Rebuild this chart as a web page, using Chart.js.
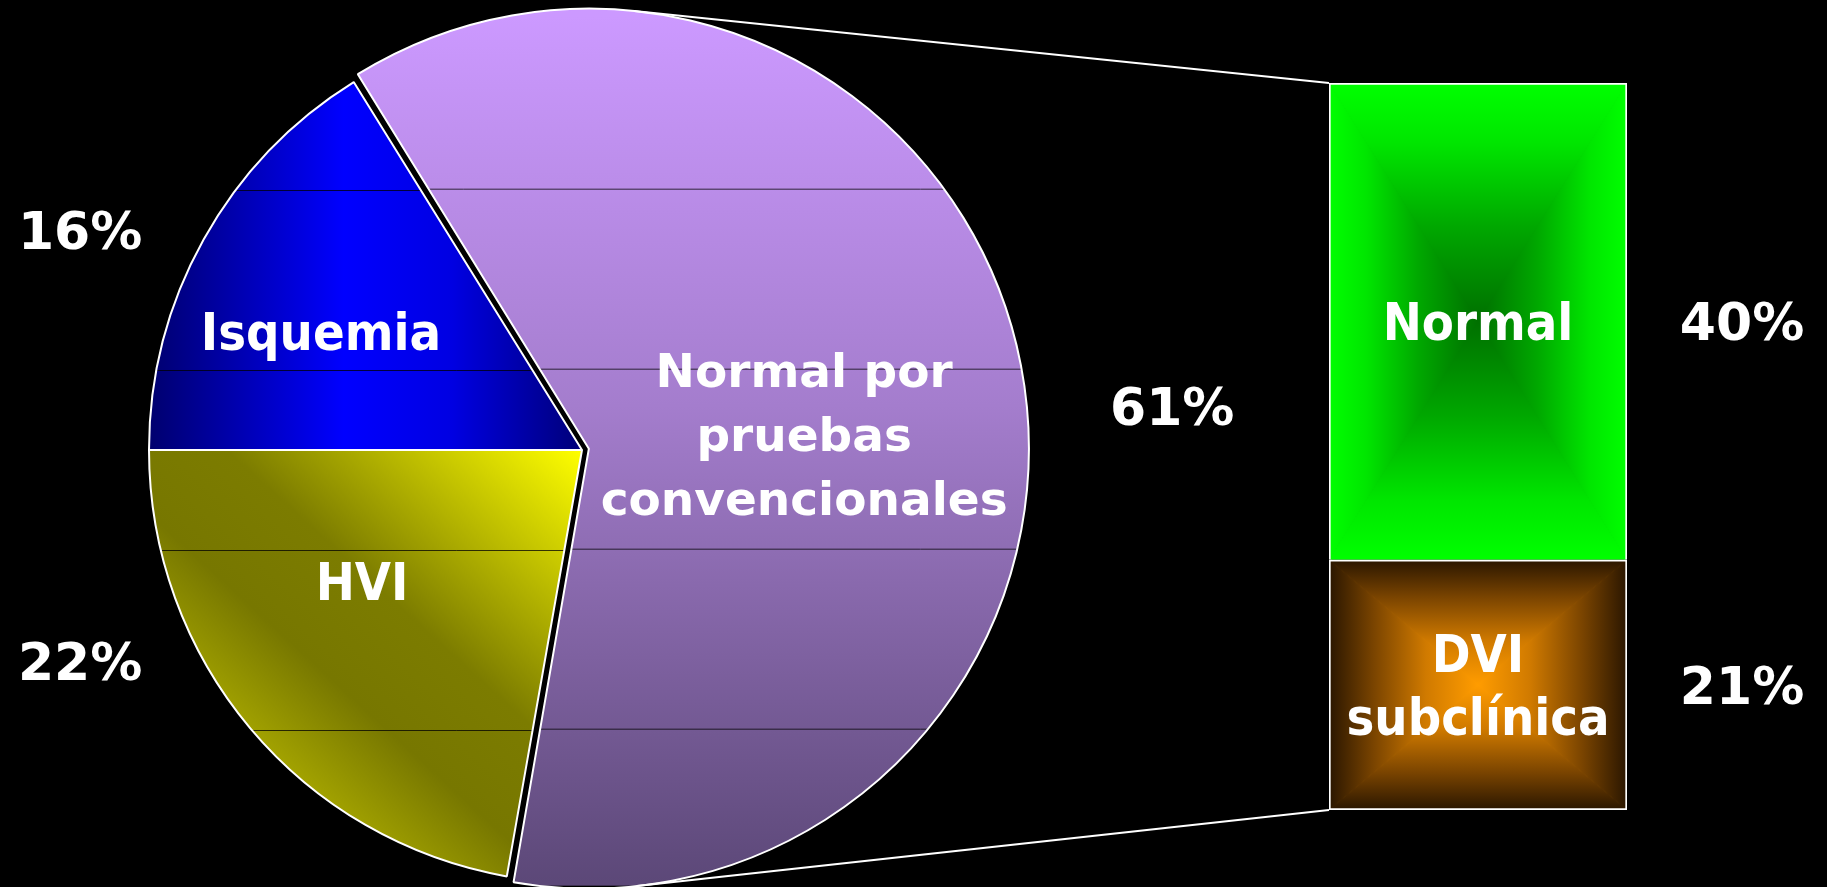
<!DOCTYPE html>
<html>
<head>
<meta charset="utf-8">
<script src="https://cdn.jsdelivr.net/npm/chart.js@4/dist/chart.umd.min.js"></script>
<style>
    html, body { margin: 0; padding: 0; background: #000; overflow: hidden; }
    #wrap { position: relative; width: 1827px; height: 887px; }
    #wrap canvas { position: absolute; left: 0; top: 0; }
</style>
</head>
<body>
<div id="wrap">
    <canvas id="pie_chart" width="1827" height="887"></canvas>
    <canvas id="bar_chart" width="1827" height="887"></canvas>
</div>
<script>
// pie: whole population
var pieLabels = ["Isquemia", "Normal por\npruebas\nconvencionales", "HVI"];
var pieValues = [16, 61, 22];

// bar: breakdown of the "normal" slice
var barLabels = ["DVI\nsubclínica", "Normal"];
var barValues = [21, 40];

var PIE_R = 433;
var condensed = 'bold 52px "DejaVu Sans Condensed", "Liberation Sans", sans-serif';
var wide = 'bold 47px "DejaVu Sans", sans-serif';
var pctFont = 'bold 52px "DejaVu Sans", sans-serif';

// label places, as fractions of the pie radius from its centre
var pieNamePos = [[-0.603, -0.231], [0.513, -0.145], [-0.508, 0.346]];
var piePctPos = [[-1.159, -0.464], [1.363, -0.058], [-1.159, 0.531]];
var pieNameFont = [condensed, wide, condensed];
// the thin dark bands across the pie
var bandLines = [-0.600, -0.185, 0.231, 0.647];

function makeFill(chart, paint) {
    var c = document.createElement("canvas");
    c.width = chart.width;
    c.height = chart.height;
    paint(c.getContext("2d"), c.width, c.height);
    return chart.ctx.createPattern(c, "no-repeat");
}

function sliceGradient(g, i, cx, cy, r) {
    var gr;
    if (i === 0) {
        gr = g.createLinearGradient(cx - r, 0, cx, 0);
        gr.addColorStop(0, "#00006e");
        gr.addColorStop(0.45, "#0000ff");
        gr.addColorStop(0.7, "#0000e2");
        gr.addColorStop(1, "#000078");
    } else if (i === 1) {
        gr = g.createLinearGradient(0, cy - r, 0, cy + r);
        gr.addColorStop(0, "#cc99ff");
        gr.addColorStop(0.45, "#a47dcd");
        gr.addColorStop(1, "#5c4878");
    } else {
        var len = 1.15 * r;
        gr = g.createLinearGradient(cx, cy, cx - 0.67 * len, cy + 0.74 * len);
        gr.addColorStop(0, "#ffff00");
        gr.addColorStop(0.48, "#7c7c00");
        gr.addColorStop(0.68, "#777700");
        gr.addColorStop(0.95, "#b4b400");
        gr.addColorStop(1, "#b4b400");
    }
    return gr;
}

function sliceFill(context) {
    var chart = context.chart, area = chart.chartArea;
    if (!area) return "#888";
    var cx = (area.left + area.right) / 2, cy = (area.top + area.bottom) / 2;
    return makeFill(chart, function (g, w, h) {
        g.fillStyle = sliceGradient(g, context.dataIndex, cx, cy, PIE_R);
        g.fillRect(0, 0, w, h);
        g.strokeStyle = "rgba(0,0,0,0.75)";
        g.lineWidth = 1;
        bandLines.forEach(function (f) {
            var y = Math.round(cy + f * PIE_R) + 0.5;
            g.beginPath();
            g.moveTo(0, y);
            g.lineTo(w, y);
            g.stroke();
        });
    });
}

// "from centre" rectangle gradient, like the office fill (edge -> centre)
var barStops = [
    [[0, "#2a1600"], [0.3, "#7a4400"], [0.65, "#d07a00"], [1, "#ff9c00"]],
    [[0, "#00ff00"], [0.25, "#00e600"], [0.6, "#00a800"], [1, "#007000"]]
];

function rectFill(context) {
    var chart = context.chart, area = chart.chartArea;
    var i = context.datasetIndex;
    if (!area) return barStops[i][0][1];
    var ys = chart.scales.y;
    var below = 0;
    for (var k = 0; k < i; k++) below += barValues[k];
    var y0 = ys.getPixelForValue(below + barValues[i]);
    var y1 = ys.getPixelForValue(below);
    var x0 = area.left, x1 = area.right;
    var cx = (x0 + x1) / 2, cy = (y0 + y1) / 2;
    var stops = barStops[i];
    return makeFill(chart, function (g) {
        var parts = [
            [[x0, y0], [x1, y0], cx, y0],
            [[x0, y1], [x1, y1], cx, y1],
            [[x0, y0], [x0, y1], x0, cy],
            [[x1, y0], [x1, y1], x1, cy]
        ];
        g.fillStyle = stops[stops.length - 1][1];
        g.fillRect(x0, y0, x1 - x0, y1 - y0);
        parts.forEach(function (p) {
            var gr = g.createLinearGradient(p[2], p[3], cx, cy);
            stops.forEach(function (s) { gr.addColorStop(s[0], s[1]); });
            g.fillStyle = gr;
            g.beginPath();
            g.moveTo(p[0][0], p[0][1]);
            g.lineTo(p[1][0], p[1][1]);
            g.lineTo(cx, cy);
            g.closePath();
            g.fill();
            g.strokeStyle = gr;
            g.lineWidth = 1;
            g.stroke();
        });
    });
}

var pieText = {
    id: "pieText",
    afterDatasetsDraw: function (chart) {
        var ctx = chart.ctx;
        var arcs = chart.getDatasetMeta(0).data;
        ctx.save();
        ctx.fillStyle = "#fff";
        ctx.textAlign = "center";
        ctx.textBaseline = "alphabetic";
        arcs.forEach(function (arc, i) {
            var r = arc.outerRadius;
            var nm = pieNamePos[i], pc = piePctPos[i];
            ctx.font = pieNameFont[i];
            pieLabels[i].split("\n").forEach(function (line, k) {
                ctx.fillText(line, arc.x + nm[0] * r, arc.y + nm[1] * r + k * 64);
            });
            ctx.font = pctFont;
            ctx.fillText(pieValues[i] + "%", arc.x + pc[0] * r, arc.y + pc[1] * r);
        });
        ctx.restore();
    }
};

var pieChart = new Chart(document.getElementById("pie_chart"), {
    type: "pie",
    data: {
        labels: pieLabels,
        datasets: [{
            data: pieValues,
            backgroundColor: sliceFill,
            borderColor: "#ffffff",
            borderWidth: 2,
            offset: [0, 28, 0],
            radius: PIE_R,
            rotation: 270
        }]
    },
    options: {
        responsive: false,
        animation: false,
        events: [],
        layout: { padding: { left: 0, right: 663, top: 13, bottom: 0 } },
        plugins: { legend: { display: false }, tooltip: { enabled: false } }
    },
    plugins: [pieText]
});

var barText = {
    id: "barText",
    afterDatasetsDraw: function (chart) {
        var ctx = chart.ctx;
        ctx.save();
        ctx.fillStyle = "#fff";
        ctx.textAlign = "center";
        ctx.textBaseline = "alphabetic";
        barLabels.forEach(function (lab, i) {
            var el = chart.getDatasetMeta(i).data[0];
            var cy = (el.y + el.base) / 2;
            var lines = lab.split("\n");
            ctx.font = condensed;
            lines.forEach(function (line, k) {
                ctx.fillText(line, el.x, cy + 19 - (lines.length - 1) * 31.5 + k * 63);
            });
            ctx.font = pctFont;
            ctx.fillText(barValues[i] + "%", el.x + el.width / 2 + 115, cy + 19);
        });
        ctx.restore();
    }
};

var connectors = {
    id: "connectors",
    afterDatasetsDraw: function (chart) {
        var arc = pieChart.getDatasetMeta(0).data[1];
        var o = (arc.options.offset || 0) / 4;
        var h = (arc.startAngle + arc.endAngle) / 2;
        var cx = arc.x + Math.cos(h) * o, cy = arc.y + Math.sin(h) * o;
        var R = arc.outerRadius + o;
        var topBar = chart.getDatasetMeta(1).data[0];
        var lowBar = chart.getDatasetMeta(0).data[0];
        var ends = [
            [topBar.x - topBar.width / 2, topBar.y, -1],
            [lowBar.x - lowBar.width / 2, lowBar.base, 1]
        ];
        var ctx = chart.ctx;
        ctx.save();
        ctx.strokeStyle = "#ffffff";
        ctx.lineWidth = 2;
        ends.forEach(function (e) {
            var dx = e[0] - cx, dy = e[1] - cy;
            var d = Math.sqrt(dx * dx + dy * dy);
            var a = Math.atan2(dy, dx) + e[2] * Math.acos(R / d);
            ctx.beginPath();
            ctx.moveTo(cx + R * Math.cos(a), cy + R * Math.sin(a));
            ctx.lineTo(e[0], e[1]);
            ctx.stroke();
        });
        ctx.restore();
    }
};

var barChart = new Chart(document.getElementById("bar_chart"), {
    type: "bar",
    data: {
        labels: [""],
        datasets: barLabels.map(function (lab, i) {
            return {
                label: lab,
                data: [barValues[i]],
                backgroundColor: rectFill,
                borderColor: "#ffffff",
                borderWidth: 2,
                borderSkipped: i === 1 ? "bottom" : false,
                barPercentage: 1,
                categoryPercentage: 1
            };
        })
    },
    options: {
        responsive: false,
        animation: false,
        events: [],
        layout: { padding: { left: 1329, right: 200, top: 83, bottom: 77 } },
        scales: {
            x: { display: false, stacked: true },
            y: { display: false, stacked: true, min: 0, max: barValues[0] + barValues[1] }
        },
        plugins: { legend: { display: false }, tooltip: { enabled: false } }
    },
    plugins: [barText, connectors]
});
</script>
</body>
</html>
